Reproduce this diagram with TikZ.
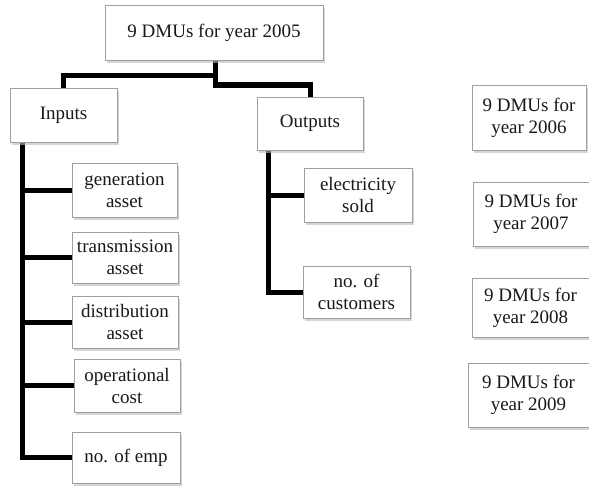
\documentclass[tikz,border=0pt]{standalone}
\usepackage{fontspec}
\setmainfont{Liberation Serif}
\usetikzlibrary{shadows,backgrounds}
\begin{document}
\begin{tikzpicture}[x=1pt,y=-1pt,
  box/.style={draw=gray!75, line width=0.9pt, fill=white, align=center,
    font=\fontsize{19}{22}\selectfont, text=black!90, inner sep=1pt,
    drop shadow={shadow xshift=2pt, shadow yshift=-3pt, fill=gray!55, opacity=0.6}},
  conn/.style={line width=5pt, black, line cap=rect, line join=miter}]
\useasboundingbox (0,0) rectangle (589,487);
\node[box, minimum width=218pt, minimum height=55pt] (top) at (214,32.5) {9 DMUs for year 2005};
\node[box, minimum width=107pt, minimum height=54pt] (inputs) at (63.5,115) {Inputs};
\node[box, minimum width=105pt, minimum height=54pt] (gen) at (124.5,190) {generation\\asset};
\node[box, minimum width=106pt, minimum height=51pt] (trans) at (125,257.5) {transmission\\asset};
\node[box, minimum width=106pt, minimum height=52pt] (dist) at (125,322) {distribution\\asset};
\node[box, minimum width=106pt, minimum height=53pt] (oper) at (127,385.5) {operational\\cost};
\node[box, minimum width=108pt, minimum height=51pt] (emp) at (126,457.5) {no. of emp};
\node[box, minimum width=106pt, minimum height=53pt] (outputs) at (310,123.5) {Outputs};
\node[box, minimum width=108pt, minimum height=54pt] (elec) at (358,195) {electricity\\sold};
\node[box, minimum width=107pt, minimum height=52pt] (cust) at (356.5,292) {no. of\\customers};
\node[box, minimum width=114pt, minimum height=65pt] (y2006) at (529,117.5) {9 DMUs for\\year 2006};
\node[box, minimum width=116pt, minimum height=64pt] (y2007) at (531,214) {9 DMUs for\\year 2007};
\node[box, minimum width=117pt, minimum height=59pt] (y2008) at (530.5,307.5) {9 DMUs for\\year 2008};
\node[box, minimum width=121pt, minimum height=64pt] (y2009) at (528.5,395) {9 DMUs for\\year 2009};
\begin{scope}[on background layer]
\fill[white] (0,0) rectangle (589,487);
\coordinate (jl) at (215,76);
\coordinate (jr) at (215,85);
\coordinate (sl) at (22,0);
\coordinate (sr) at (268,0);
\draw[conn] (top.south -| jl) -- (jr) -| (outputs.north);
\draw[conn] (jl) -| (inputs.north);
\draw[conn] (inputs.south -| sl) -- (emp.west -| sl) -- (emp.west);
\draw[conn] (gen.west -| sl) -- (gen.west);
\draw[conn] (trans.west -| sl) -- (trans.west);
\draw[conn] (dist.west -| sl) -- (dist.west);
\draw[conn] (oper.west -| sl) -- (oper.west);
\draw[conn] (outputs.south -| sr) -- (cust.west -| sr) -- (cust.west);
\draw[conn] (elec.west -| sr) -- (elec.west);
\end{scope}
\end{tikzpicture}
\end{document}
